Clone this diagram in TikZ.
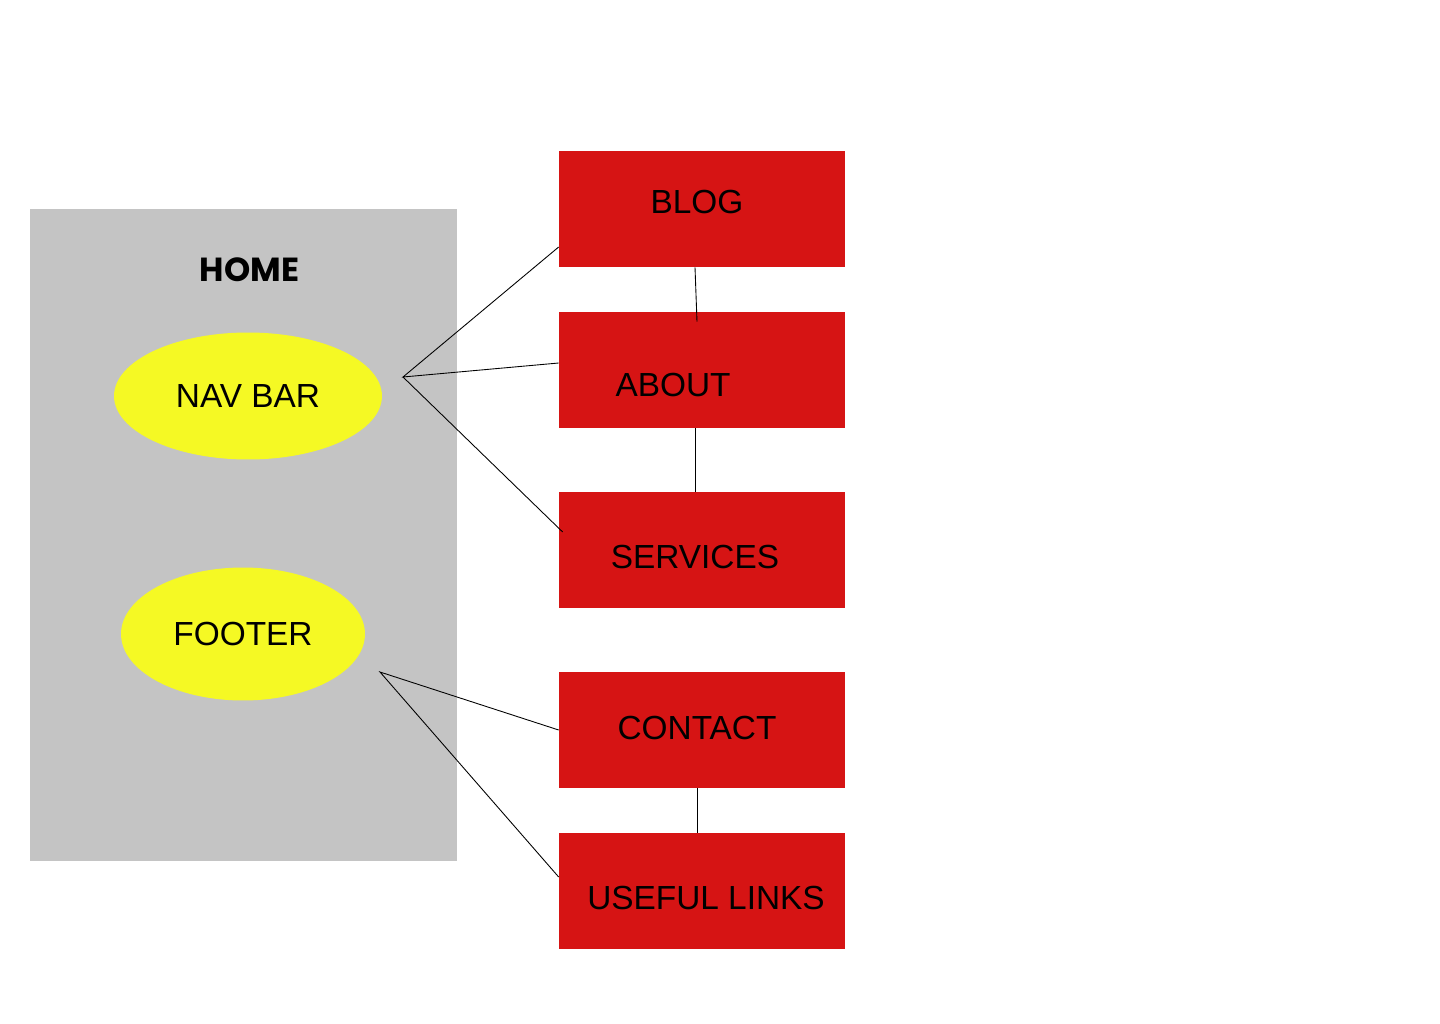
\documentclass[tikz,border=0pt]{standalone}
\usepackage{fontspec}
\setmainfont{Liberation Sans}
\newfontfamily\titlefont{Poppins}
\usepackage{tikz}
\usetikzlibrary{shapes.geometric}
\definecolor{pagegrey}{HTML}{C4C4C4}
\definecolor{partyellow}{HTML}{F5F924}
\definecolor{linkred}{HTML}{D61414}
\tikzset{pagebox/.style = {fill=pagegrey, rectangle, inner sep = 0, minimum width = 8.54cm, minimum height = 13.04cm}}
\tikzset{part/.style = {fill=partyellow, ellipse, inner sep = 0, font=\fontsize{19}{23}\selectfont}}
\tikzset{linkbox/.style = {fill=linkred, rectangle, inner sep = 0, minimum width = 5.72cm, minimum height = 2.32cm}}
\tikzset{linktext/.style = {inner sep = 0, font=\fontsize{19}{23}\selectfont}}
\tikzset{wire/.style = {draw=black, line width = 0.5pt}}

\begin{document}
\begin{tikzpicture}[x=0.02cm, y=-0.02cm]
        \useasboundingbox (0,0) rectangle (1440,1024);
        \node [pagebox] (home) at (243.5,535) {};
        \node [inner sep = 0, font=\titlefont\bfseries\fontsize{19}{23}\selectfont] (hometitle) at (249.5,270) {HOME};
        \node [part, minimum width = 5.36cm, minimum height = 2.54cm] (navbar) at (248,396) {NAV BAR};
        \node [part, minimum width = 4.88cm, minimum height = 2.66cm] (footer) at (243,634) {FOOTER};
        \node [linkbox] (blog) at (702,209) {};
        \node [linkbox] (about) at (702,370) {};
        \node [linkbox] (services) at (702,550) {};
        \node [linkbox] (contact) at (702,730) {};
        \node [linkbox] (links) at (702,891) {};
        \node [linktext] (blogtxt) at (697,202) {BLOG};
        \node [linktext] (abouttxt) at (673,385) {ABOUT};
        \node [linktext] (servicestxt) at (695,557) {SERVICES};
        \node [linktext] (contacttxt) at (697,728) {CONTACT};
        \node [linktext] (linkstxt) at (706,898) {USEFUL LINKS};
        \coordinate (navhub) at (403,377);
        \coordinate (foothub) at (380,672);
        \draw [wire] ([yshift=-0.76cm]blog.west) -- (navhub) -- ([yshift=0.14cm]about.west);
        \draw [wire] (navhub) -- ([xshift=0.08cm,yshift=0.36cm]services.west);
        \draw [wire] ([xshift=-0.14cm]blog.south) -- ([xshift=-0.1cm,yshift=-0.2cm]about.north);
        \draw [wire] ([xshift=-0.14cm]about.south) -- ([xshift=-0.14cm]services.north);
        \draw [wire] (contact.west) -- (foothub) -- ([yshift=0.28cm]links.west);
        \draw [wire] ([xshift=-0.1cm]contact.south) -- ([xshift=-0.1cm]links.north);
    \end{tikzpicture}
\end{document}
